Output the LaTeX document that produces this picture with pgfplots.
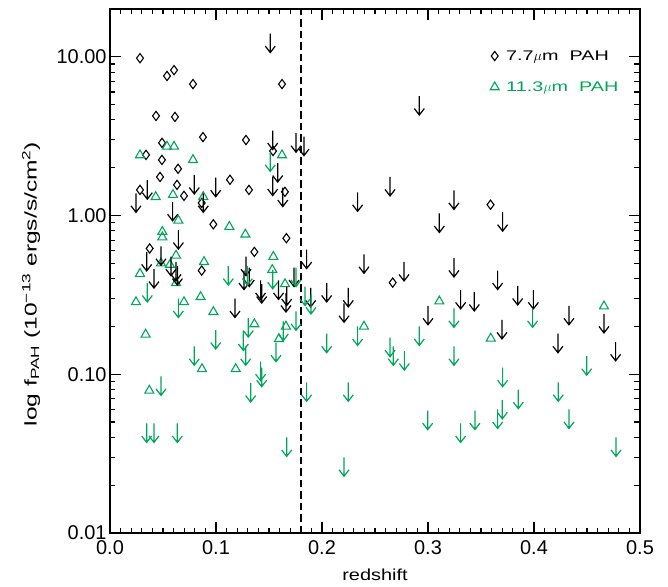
\documentclass[border=0pt]{standalone}
\usepackage{fontspec}
\setmainfont{Liberation Sans}
\newfontfamily\labfont{Liberation Sans}[FakeStretch=1.25]
\newfontfamily\ylabfont{Liberation Sans}[FakeStretch=1.45]
\newfontfamily\legfont{Liberation Sans}[FakeStretch=1.42]
\usepackage{pgfplots}
\pgfplotsset{compat=1.18}
\definecolor{pahgreen}{RGB}{0,166,90}
\pgfdeclareplotmark{ularrow}{%
 \pgfpathmoveto{\pgfpoint{0bp}{0bp}}%
 \pgfpathlineto{\pgfpoint{0bp}{-19bp}}%
 \pgfpathmoveto{\pgfpoint{-5bp}{-12.5bp}}%
 \pgfpathlineto{\pgfpoint{0bp}{-19bp}}%
 \pgfpathlineto{\pgfpoint{5bp}{-12.5bp}}%
 \pgfusepathqstroke}
\begin{document}
\begin{tikzpicture}
\path[use as bounding box] (-110bp,-54bp) rectangle (558bp,533bp);
\begin{axis}[
 scale only axis, width=530bp, height=524bp,
 xmin=0, xmax=0.5, ymin=0.01, ymax=20, ymode=log,
 xtick={0,0.1,0.2,0.3,0.4,0.5}, xticklabels={0.0,0.1,0.2,0.3,0.4,0.5},
 minor x tick num=9,
 yticklabel={\pgfmathparse{exp(\tick)}\pgfmathprintnumber[fixed,fixed zerofill,precision=2]{\pgfmathresult}},
 /pgf/number format/assume math mode=true,
 tick align=inside,
 major tick length=11bp, minor tick length=5.5bp,
 every tick/.style={black, line width=1.1bp},
 axis line style={line width=1.3bp},
 tick label style={font=\fontsize{20}{23}\selectfont},
 xticklabel style={yshift=-4bp},
 label style={font=\fontsize{16}{19}\selectfont},
 xlabel={\labfont redshift},
 ylabel={\fontsize{17}{20}\selectfont\ylabfont log f\textsubscript{PAH} (10\textsuperscript{−13} ergs/s/cm\textsuperscript{2})},
 xlabel style={at={(axis description cs:0.5,-0.08)}, anchor=center},
 ylabel style={at={(axis description cs:-0.149,0.475)}, anchor=center},
 legend style={draw=none, fill=none, at={(axis description cs:0.717,0.925)}, anchor=north west,
   font=\fontsize{14}{17}\selectfont\legfont, row sep=16bp, inner sep=0bp},
 legend cell align=left,
 legend image code/.code={\draw[#1] plot coordinates {(0bp,0bp)};},
]
% 7.7 um detections
\addplot[only marks, mark=diamond, mark size=4.6bp, black, line width=1.1bp] table {
x y
0.0283 9.8
0.0538 7.57
0.0604 8.24
0.0783 6.73
0.1623 6.73
0.0434 4.24
0.0613 4.18
0.0877 3.12
0.1283 2.99
0.0491 2.87
0.0340 2.41
0.1538 2.55
0.0490 2.24
0.0642 1.97
0.0472 1.75
0.1132 1.68
0.0632 1.56
0.0283 1.45
0.1311 1.45
0.0698 1.33
0.1650 1.41
0.0865 1.20
0.0975 0.88
0.1664 0.72
0.0374 0.62
0.1362 0.59
0.0865 0.45
0.2667 0.378
0.3590 1.17
};
\addlegendentry{\hspace{5bp}7.7$\mu$m\ \ PAH}
% 11.3 um detections
\addplot[only marks, mark=triangle, mark size=5.2bp, pahgreen, line width=1.1bp] table {
x y
0.0283 2.40
0.0538 2.72
0.0604 2.72
0.0783 2.24
0.1623 2.40
0.0431 1.31
0.0594 1.35
0.0880 1.31
0.0645 0.93
0.0494 0.79
0.0494 0.73
0.1126 0.85
0.1277 0.76
0.0623 0.56
0.0481 0.50
0.0566 0.49
0.0887 0.51
0.0283 0.43
0.0623 0.376
0.1541 0.55
0.1531 0.455
0.1651 0.37
0.0245 0.285
0.0698 0.285
0.0855 0.307
0.0975 0.247
0.1362 0.207
0.1660 0.20
0.1594 0.167
0.0336 0.178
0.0868 0.108
0.1186 0.108
0.0371 0.079
0.2396 0.20
0.3107 0.288
0.3592 0.168
0.4660 0.268
};
\addlegendentry{\hspace{5bp}\textcolor{pahgreen}{11.3$\mu$m\ \ PAH}}
% 7.7 um upper limits
\addplot[only marks, mark=ularrow, black, line width=1.2bp, forget plot] table {
x y
0.1512 14.0
0.1535 3.43
0.1582 2.14
0.0352 1.67
0.0795 1.80
0.0997 1.73
0.1535 1.76
0.1630 1.50
0.0245 1.38
0.0591 1.22
0.0880 1.38
0.0645 0.81
0.0346 0.59
0.0481 0.64
0.0575 0.55
0.0623 0.51
0.0636 0.48
0.0415 0.46
0.1283 0.55
0.1314 0.47
0.1264 0.45
0.1421 0.39
0.1431 0.37
0.1590 0.39
0.1667 0.357
0.1179 0.30
0.2918 5.66
0.1755 3.30
0.1830 3.14
0.2642 1.75
0.2336 1.40
0.3245 1.44
0.3107 1.03
0.1855 0.61
0.2396 0.57
0.2774 0.51
0.3245 0.54
0.1736 0.47
0.2044 0.376
0.2248 0.35
0.1893 0.35
0.1660 0.325
0.2208 0.28
0.3000 0.27
0.3308 0.34
0.3437 0.33
0.3704 1.05
0.3657 0.45
0.3846 0.36
0.3994 0.34
0.3698 0.22
0.4330 0.27
0.4660 0.24
0.4226 0.18
0.4770 0.16
};
% 11.3 um upper limits
\addplot[only marks, mark=ularrow, pahgreen, line width=1.2bp, forget plot] table {
x y
0.1512 2.50
0.0352 0.376
0.0645 0.30
0.1116 0.48
0.1296 0.48
0.1535 0.455
0.0997 0.19
0.1258 0.186
0.1305 0.226
0.1280 0.15
0.0795 0.15
0.1566 0.158
0.1635 0.215
0.1421 0.12
0.1431 0.11
0.0481 0.097
0.1327 0.088
0.0346 0.049
0.0415 0.049
0.0635 0.049
0.1667 0.040
0.1855 0.089
0.2248 0.089
0.2208 0.030
0.2997 0.059
0.3308 0.049
0.3443 0.059
0.1755 0.47
0.1840 0.357
0.1896 0.316
0.1755 0.249
0.2044 0.18
0.2336 0.20
0.2642 0.17
0.2673 0.15
0.2777 0.14
0.2918 0.20
0.3245 0.26
0.3245 0.15
0.3987 0.26
0.4497 0.13
0.3704 0.11
0.3852 0.080
0.3701 0.069
0.3657 0.060
0.4229 0.089
0.4330 0.060
0.4774 0.040
};
% z = 0.18 divider
\addplot[black, line width=2bp, dash pattern=on 7.5bp off 4bp, forget plot] coordinates {(0.18,0.01) (0.18,20)};
\end{axis}
\end{tikzpicture}
\end{document}
